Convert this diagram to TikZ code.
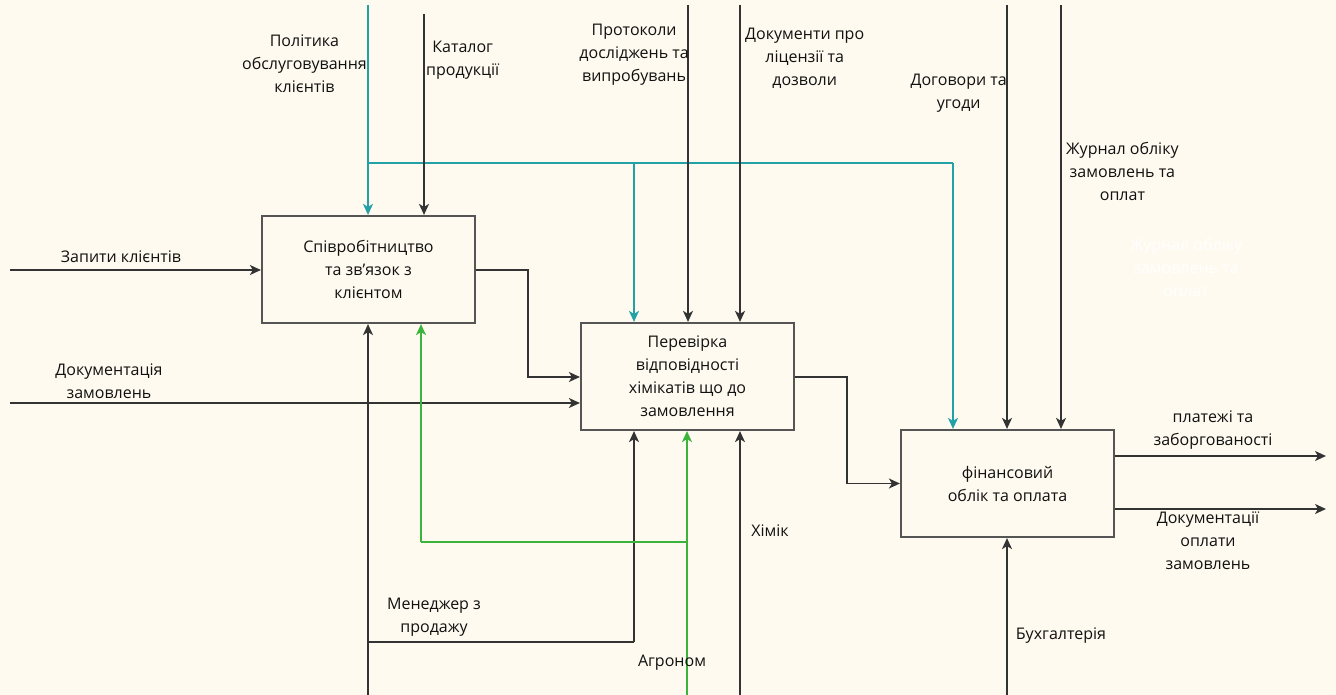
\documentclass[tikz,border=0pt]{standalone}
\usepackage{fontspec}
\setmainfont{Open Sans}
\usetikzlibrary{arrows.meta,calc}
\definecolor{bgc}{HTML}{FEFAEF}
\definecolor{linec}{HTML}{333333}
\definecolor{boxc}{HTML}{555555}
\definecolor{tealc}{HTML}{22A2A6}
\definecolor{greenc}{HTML}{3CB43C}
\definecolor{txtc}{HTML}{111111}
\newcommand\lblfont{\fontsize{16}{23}\selectfont}
\begin{document}
\begin{tikzpicture}[x=1pt,y=-1pt,
  box/.style={draw=boxc,line width=2.2pt,minimum width=213pt,minimum height=107pt,inner sep=0pt,align=center,font=\lblfont,text=txtc},
  lbl/.style={inner sep=0pt,align=center,font=\lblfont,text=txtc},
  tip/.style={-{Stealth[length=11pt,width=10pt,inset=3pt]}},
  arr/.style={draw=linec,line width=1.6pt,tip},
  plain/.style={draw=linec,line width=1.6pt},
  tarr/.style={draw=tealc,line width=1.6pt,tip},
  tplain/.style={draw=tealc,line width=1.6pt},
  garr/.style={draw=greenc,line width=1.6pt,tip},
  gplain/.style={draw=greenc,line width=1.6pt}]
\fill[bgc] (0,0) rectangle (1336,695);
\useasboundingbox (0,0) rectangle (1336,695);

% boxes
\node[box] (b1) at (368.5,269.5) {Співробітництво\\та зв\symbol{39}язок з\\клієнтом};
\node[box] (b2) at (687.5,376.5) {Перевірка\\відповідності\\хімікатів що до\\замовлення};
\node[box] (b3) at (1007.5,483.5) {фінансовий\\облік та оплата};

% free ends
\coordinate (tpol) at (368,5);
\coordinate (tbr) at (368,163);
\coordinate (tb2) at (634,163);
\coordinate (tb3) at (953,163);
\coordinate (kat) at (424,14);
\coordinate (prot) at (688,5);
\coordinate (doc) at (740,5);
\coordinate (dog) at (1007,5);
\coordinate (zhur) at (1061,5);
\coordinate (zap) at (10,270);
\coordinate (dz) at (10,403);
\coordinate (o1) at (1326,456);
\coordinate (o2) at (1326,509);
\coordinate (man) at (368,695);
\coordinate (manbr) at (368,642);
\coordinate (man2) at (634,642);
\coordinate (agr) at (687,695);
\coordinate (agrbr) at (687,542);
\coordinate (agr1) at (421,542);
\coordinate (him) at (740,695);
\coordinate (buh) at (1007,695);
\coordinate (m12) at (528,270);
\coordinate (m23) at (847,377);

% controls (teal)
\draw[tarr] (tpol) -- (tpol |- b1.north);
\draw[tplain] (tbr) -- (tb3);
\draw[tarr] (tb2) -- (tb2 |- b2.north);
\draw[tarr] (tb3) -- (tb3 |- b3.north);

% controls (black)
\draw[arr] (kat) -- (kat |- b1.north);
\draw[arr] (prot) -- (prot |- b2.north);
\draw[arr] (doc) -- (doc |- b2.north);
\draw[arr] (dog) -- (dog |- b3.north);
\draw[arr] (zhur) -- (zhur |- b3.north);

% inputs
\draw[arr] (zap) -- (b1.west |- zap);
\draw[arr] (dz) -- (b2.west |- dz);
\draw[arr] (b1.east |- m12) -- (m12) |- (b2.west |- 0,377);
\draw[arr] (b2.east |- m23) -- (m23) |- (b3.west);

% outputs
\draw[arr] (b3.east |- o1) -- (o1);
\draw[arr] (b3.east |- o2) -- (o2);

% mechanisms
\draw[arr] (man) -- (man |- b1.south);
\draw[plain] (manbr) -- (man2);
\draw[arr] (man2) -- (man2 |- b2.south);
\draw[garr] (agr) -- (agr |- b2.south);
\draw[gplain] (agrbr) -- (agr1);
\draw[garr] (agr1) -- (agr1 |- b1.south);
\draw[arr] (him) -- (him |- b2.south);
\draw[arr] (buh) -- (buh |- b3.south);

% labels
\node[lbl,anchor=east] (lpol) at (367,64) {Політика\\обслуговування\\клієнтів};
\node[lbl,anchor=west] (lkat) at (426,60) {Каталог\\продукції};
\node[lbl,anchor=east] (lprot) at (689,55) {Протоколи\\досліджень та\\випробувань};
\node[lbl,anchor=west] (ldoc) at (745,58) {Документи про\\ліцензії та\\дозволи};
\node[lbl,anchor=east] (ldog) at (1007,93) {Договори та\\угоди};
\node[lbl,anchor=west] (lzhur) at (1066,171) {Журнал обліку\\замовлень та\\оплат};
\node[lbl,text=white] (lwhite) at (1186,267) {Журнал обліку\\замовлень та\\оплат};
\node[lbl] (lzap) at (121,257) {Запити клієнтів};
\node[lbl] (ldz) at (109,381) {Документація\\замовлень};
\node[lbl] (lman) at (434,617) {Менеджер з\\продажу};
\node[lbl] (lagr) at (672,663) {Агроном};
\node[lbl] (lhim) at (770,531) {Хімік};
\node[lbl] (lbuh) at (1061,636) {Бухгалтерія};
\node[lbl] (lpl) at (1213,430) {платежі та\\заборгованості};
\node[lbl] (ldo) at (1208,541) {Документації\\оплати\\замовлень};
\end{tikzpicture}
\end{document}
